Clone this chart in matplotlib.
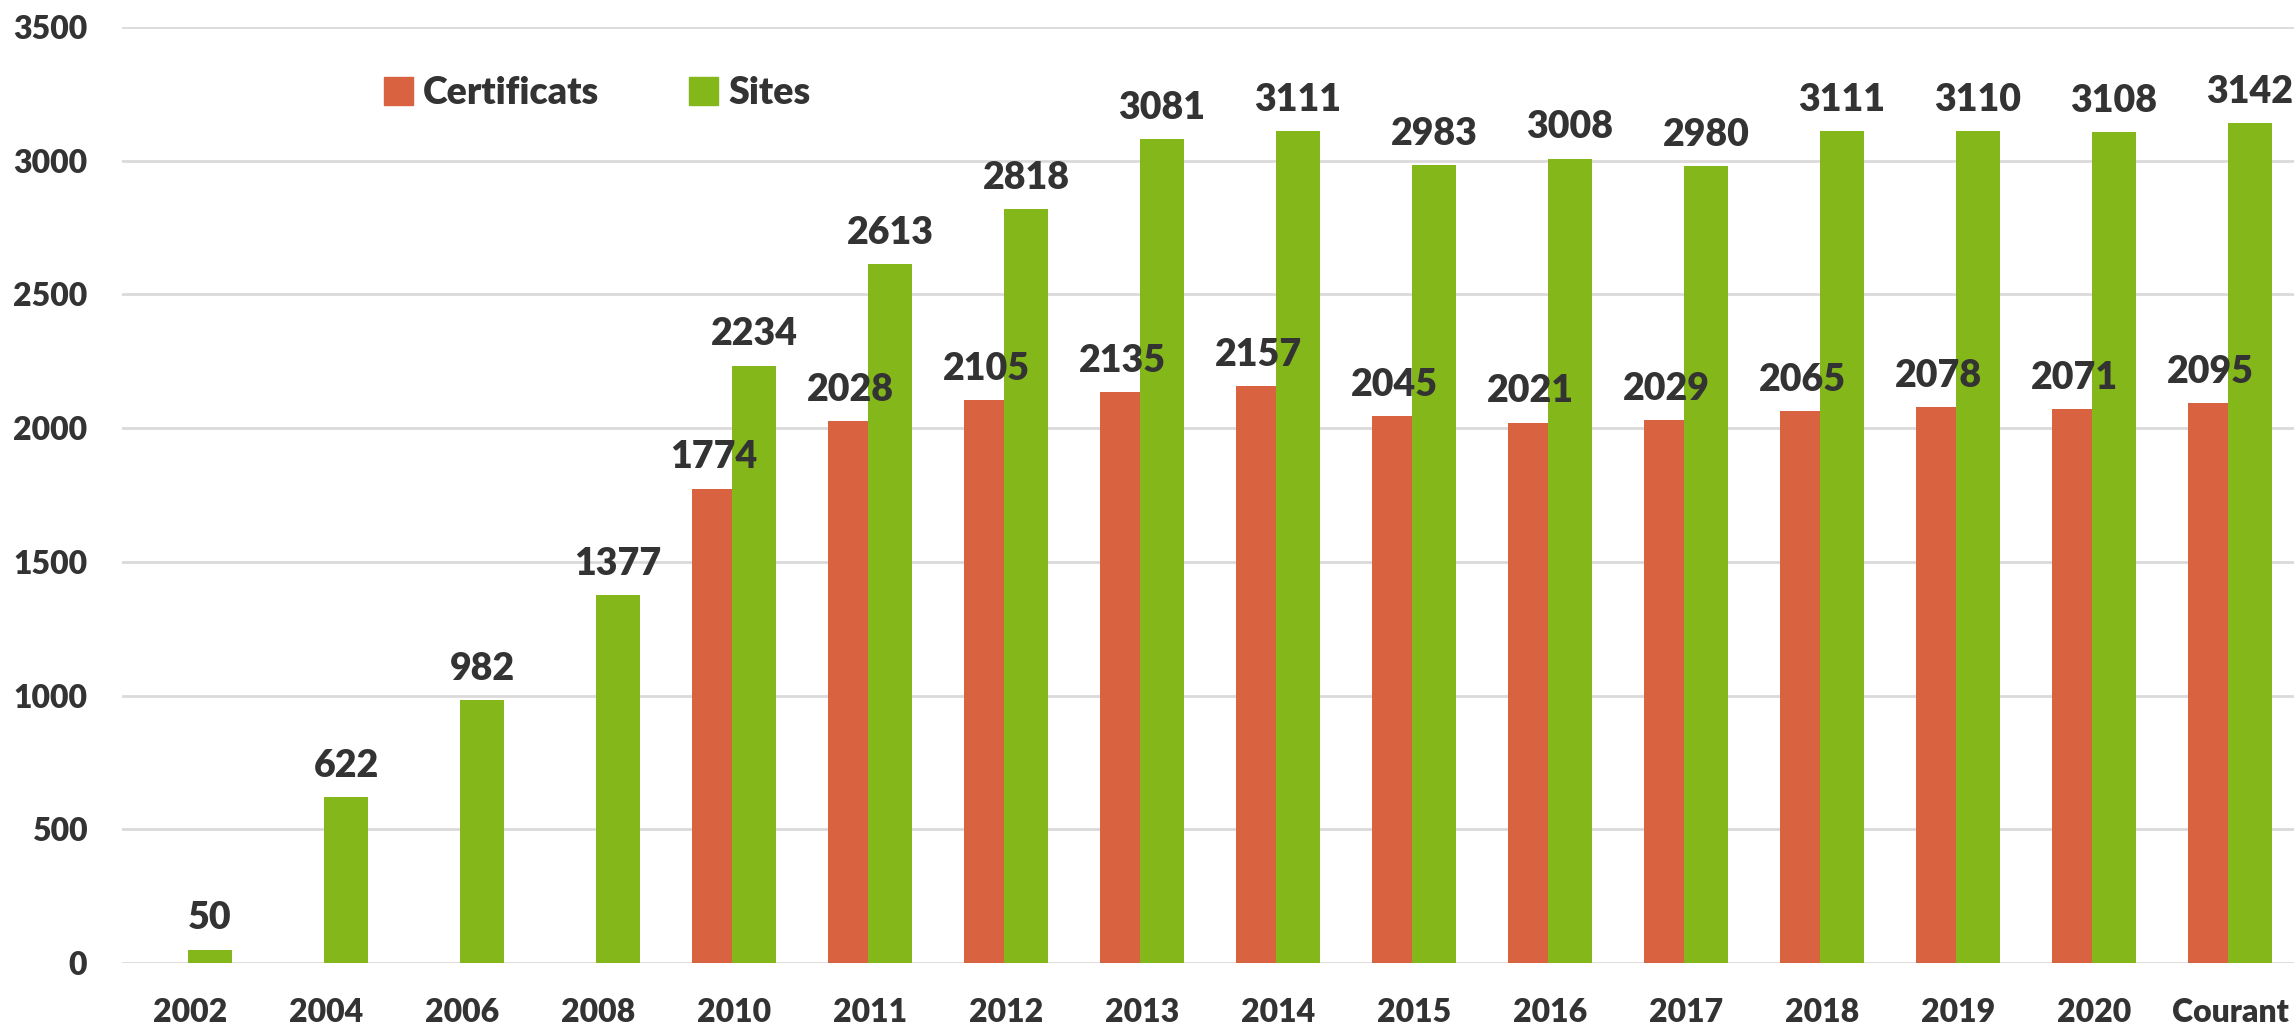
import numpy as np
import matplotlib
matplotlib.use("Agg")
from matplotlib import pyplot as plt
from matplotlib.patches import Patch

CATEGORIES = ["2002", "2004", "2006", "2008", "2010", "2011", "2012", "2013",
              "2014", "2015", "2016", "2017", "2018", "2019", "2020", "Courant"]
CERTIFICATS = [np.nan, np.nan, np.nan, np.nan, 1774, 2028, 2105, 2135,
               2157, 2045, 2021, 2029, 2065, 2078, 2071, 2095]
SITES = [50, 622, 982, 1377, 2234, 2613, 2818, 3081,
         3111, 2983, 3008, 2980, 3111, 3110, 3108, 3142]
Y_TICKS = [0, 500, 1000, 1500, 2000, 2500, 3000, 3500]

ORANGE = "#D96340"
GREEN = "#84B81A"
TEXT = "#333333"
GRID = "#DCDAD8"
WEIGHT = "heavy"

plt.rcParams['font.family'] = ['Lato', 'DejaVu Sans']
plt.rcParams['font.weight'] = WEIGHT

W, H = 2294, 1026
fig = plt.figure(figsize=(W / 100, H / 100), dpi=100)
# axes placed in pixel terms: x from 122 px, y from 27 px (3500) to 963 px (0)
ax = fig.add_axes([122 / W, (H - 963) / H, (W - 122) / W, (963 - 27) / H])

x = np.arange(len(CATEGORIES))
width = 44 / 136
shift = 20 / 136

ax.bar(x - shift, CERTIFICATS, width, color=ORANGE, zorder=2, label="Certificats")
ax.bar(x + shift, SITES, width, color=GREEN, zorder=3, label="Sites")

for i in range(len(CATEGORIES)):
    if not np.isnan(CERTIFICATS[i]):
        ax.annotate(str(int(CERTIFICATS[i])), (x[i] - shift, CERTIFICATS[i]),
                    xytext=(0, 14.5), textcoords="offset points", ha="center",
                    va="baseline", fontsize=27, fontweight=WEIGHT, color=TEXT,
                    zorder=5, annotation_clip=False)
    ax.annotate(str(SITES[i]), (x[i] + shift, SITES[i]),
                xytext=(0, 14.5), textcoords="offset points", ha="center",
                va="baseline", fontsize=27, fontweight=WEIGHT, color=TEXT,
                zorder=5, annotation_clip=False)

ax.set_xlim(-0.5, 15.47)
ax.set_ylim(0, 3500)
ax.set_yticks(Y_TICKS)
ax.set_xticks(x)
ax.set_xticklabels(CATEGORIES)
ax.tick_params(axis="both", length=0, labelsize=23, labelcolor=TEXT)
ax.tick_params(axis="y", pad=25)
ax.tick_params(axis="x", pad=25)
for lab in ax.get_xticklabels() + ax.get_yticklabels():
    lab.set_fontweight(WEIGHT)

ax.yaxis.grid(True, color=GRID, linewidth=2, zorder=0)
ax.set_axisbelow(True)
for s in ax.spines.values():
    s.set_visible(False)

handles = [Patch(color=ORANGE, label="Certificats"), Patch(color=GREEN, label="Sites")]
fig.legend(handles=handles, loc="center left", bbox_to_anchor=(384 / W, 1 - 93 / H),
           ncol=2, frameon=False, handlelength=0.77, handleheight=0.77,
           handletextpad=0.27, columnspacing=2.4, borderpad=0, borderaxespad=0,
           labelcolor=TEXT, prop={"weight": WEIGHT, "size": 27})

fig.savefig("out.png", dpi=100)
